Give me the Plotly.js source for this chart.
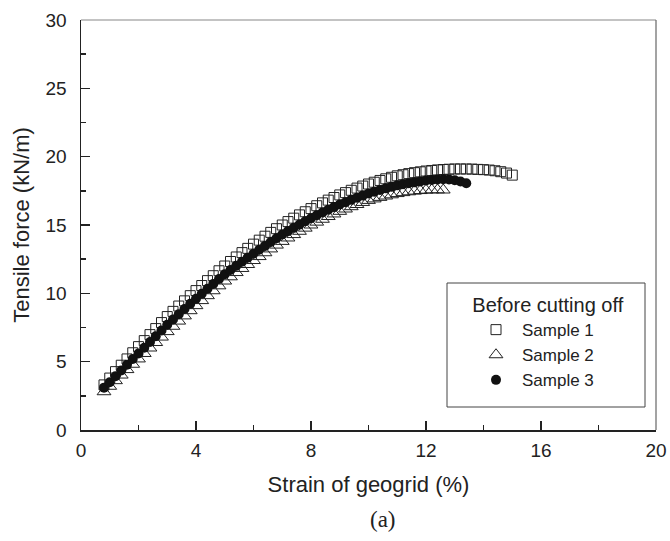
<!DOCTYPE html>
<html><head><meta charset="utf-8">
<script src="https://cdn.plot.ly/plotly-3.0.1.min.js"></script>
<style>body{margin:0;background:#fff}</style>
</head><body>
<div id="chart" style="width:670px;height:541px"></div>
<script>
const strain1 = [0.8,1.0,1.2,1.4,1.6,1.8,2.0,2.2,2.4,2.6,2.8,3.0,3.2,3.4,3.6,3.8,4.0,4.2,4.4,4.6,4.8,5.0,5.2,5.4,5.6,5.8,6.0,6.2,6.4,6.6,6.8,7.0,7.2,7.4,7.6,7.8,8.0,8.2,8.4,8.6,8.8,9.0,9.2,9.4,9.6,9.8,10.0,10.2,10.4,10.6,10.8,11.0,11.2,11.4,11.6,11.8,12.0,12.2,12.4,12.6,12.8,13.0,13.2,13.4,13.6,13.8,14.0,14.2,14.4,14.6,14.8,15.0];
const force1 = [3.30,3.80,4.27,4.74,5.20,5.65,6.10,6.54,6.98,7.42,7.86,8.30,8.68,9.07,9.45,9.83,10.20,10.57,10.93,11.29,11.65,12.00,12.33,12.66,12.98,13.29,13.60,13.89,14.18,14.46,14.73,15.00,15.25,15.50,15.74,15.97,16.20,16.41,16.62,16.82,17.01,17.20,17.37,17.54,17.70,17.85,18.00,18.13,18.26,18.38,18.49,18.60,18.68,18.76,18.83,18.89,18.95,18.99,19.03,19.06,19.08,19.10,19.10,19.10,19.09,19.07,19.05,19.02,18.97,18.90,18.80,18.65];
const strain2 = [0.8,1.0,1.2,1.4,1.6,1.8,2.0,2.2,2.4,2.6,2.8,3.0,3.2,3.4,3.6,3.8,4.0,4.2,4.4,4.6,4.8,5.0,5.2,5.4,5.6,5.8,6.0,6.2,6.4,6.6,6.8,7.0,7.2,7.4,7.6,7.8,8.0,8.2,8.4,8.6,8.8,9.0,9.2,9.4,9.6,9.8,10.0,10.2,10.4,10.6,10.8,11.0,11.2,11.4,11.6,11.8,12.0,12.2,12.4,12.6];
const force2 = [2.80,3.20,3.61,4.02,4.42,4.81,5.20,5.60,6.00,6.40,6.80,7.20,7.59,7.97,8.35,8.73,9.10,9.47,9.83,10.19,10.55,10.90,11.21,11.52,11.82,12.11,12.40,12.69,12.97,13.25,13.53,13.80,14.05,14.30,14.54,14.77,15.00,15.21,15.42,15.62,15.81,16.00,16.17,16.34,16.50,16.65,16.80,16.91,17.02,17.12,17.21,17.30,17.37,17.43,17.48,17.52,17.55,17.57,17.57,17.56];
const strain3 = [0.8,1.0,1.2,1.4,1.6,1.8,2.0,2.2,2.4,2.6,2.8,3.0,3.2,3.4,3.6,3.8,4.0,4.2,4.4,4.6,4.8,5.0,5.2,5.4,5.6,5.8,6.0,6.2,6.4,6.6,6.8,7.0,7.2,7.4,7.6,7.8,8.0,8.2,8.4,8.6,8.8,9.0,9.2,9.4,9.6,9.8,10.0,10.2,10.4,10.6,10.8,11.0,11.2,11.4,11.6,11.8,12.0,12.2,12.4,12.6,12.8,13.0,13.2,13.4];
const force3 = [3.10,3.50,3.93,4.35,4.77,5.19,5.60,6.02,6.44,6.86,7.28,7.70,8.09,8.47,8.85,9.23,9.60,9.97,10.33,10.69,11.05,11.40,11.71,12.01,12.31,12.61,12.90,13.19,13.47,13.75,14.03,14.30,14.55,14.79,15.03,15.27,15.50,15.71,15.91,16.11,16.31,16.50,16.67,16.84,17.00,17.15,17.30,17.43,17.56,17.68,17.79,17.90,17.98,18.05,18.12,18.19,18.25,18.29,18.33,18.35,18.33,18.27,18.18,18.05];
const seriesNames = ["Sample 1","Sample 2","Sample 3"];
const legendTitle = "Before cutting off";
const xTitle = "Strain of geogrid (%)";
const yTitle = "Tensile force (kN/m)";
const caption = "(a)";

const font = "'Liberation Sans', Arial, sans-serif";
const ink = "#222";
const traces = [
  {x: strain1, y: force1, name: seriesNames[0], type: "scatter", mode: "markers",
   marker: {symbol: "square-open", size: 10, color: ink, line: {width: 1, color: ink}}},
  {x: strain2, y: force2, name: seriesNames[1], type: "scatter", mode: "markers",
   marker: {symbol: "triangle-up-open", size: 12, color: ink, line: {width: 1, color: ink}}},
  {x: strain3, y: force3, name: seriesNames[2], type: "scatter", mode: "markers",
   marker: {symbol: "circle", size: 10, color: "#111", line: {width: 0}}}
];
const layout = {
  width: 670, height: 541,
  margin: {l: 81, r: 14, t: 20, b: 111},
  paper_bgcolor: "#fff", plot_bgcolor: "#fff",
  font: {family: font, size: 19, color: ink},
  showlegend: true,
  legend: {
    x: (470 - 81) / 575, y: 0.351, xanchor: "left", yanchor: "top",
    borderwidth: 0, bgcolor: "rgba(0,0,0,0)",
    font: {family: font, size: 17, color: ink},
    title: {text: legendTitle, side: "top center", font: {family: font, size: 20, color: ink}},
    tracegroupgap: 0, itemwidth: 42
  },
  xaxis: {
    range: [0, 20], dtick: 4, tick0: 0, showgrid: false, zeroline: false,
    showline: true, linecolor: ink, linewidth: 1.5,
    ticks: "inside", ticklen: 9, tickwidth: 1.5, tickcolor: ink,
    minor: {ticks: "inside", ticklen: 5, dtick: 2, tickwidth: 1.5, tickcolor: ink, showgrid: false},
    tickfont: {family: font, size: 19, color: ink}, ticklabelstandoff: 3,
    title: {text: xTitle, font: {family: font, size: 22, color: ink}, standoff: 16}
  },
  yaxis: {
    range: [0, 30], dtick: 5, tick0: 0, showgrid: false, zeroline: false,
    showline: true, linecolor: ink, linewidth: 1.5,
    ticks: "inside", ticklen: 9, tickwidth: 1.5, tickcolor: ink,
    minor: {ticks: "inside", ticklen: 5, dtick: 2.5, tickwidth: 1.5, tickcolor: ink, showgrid: false},
    tickfont: {family: font, size: 19, color: ink}, ticklabelstandoff: 9,
    title: {text: yTitle, font: {family: font, size: 22, color: ink}, standoff: 10}
  },
  shapes: [
    {type: "line", xref: "paper", yref: "paper", x0: 0, x1: 1, y0: 1, y1: 1, line: {color: "#888", width: 1.2}},
    {type: "line", xref: "paper", yref: "paper", x0: 1, x1: 1, y0: 0, y1: 1, line: {color: "#666", width: 1.2}},
    {type: "rect", xref: "paper", yref: "paper", layer: "below",
     x0: (447 - 81) / 575, x1: (645 - 81) / 575, y0: (430 - 407) / 410, y1: (430 - 283) / 410,
     line: {color: "#444", width: 1}, fillcolor: "#fff"}
  ],
  annotations: [
    {text: caption, xref: "paper", yref: "paper", x: 0.525, y: -0.218, yanchor: "middle", xanchor: "center",
     showarrow: false, font: {family: "'Liberation Serif', 'Times New Roman', serif", size: 23, color: ink}}
  ]
};
Plotly.newPlot("chart", traces, layout, {displayModeBar: false, staticPlot: true});
</script>
</body></html>
